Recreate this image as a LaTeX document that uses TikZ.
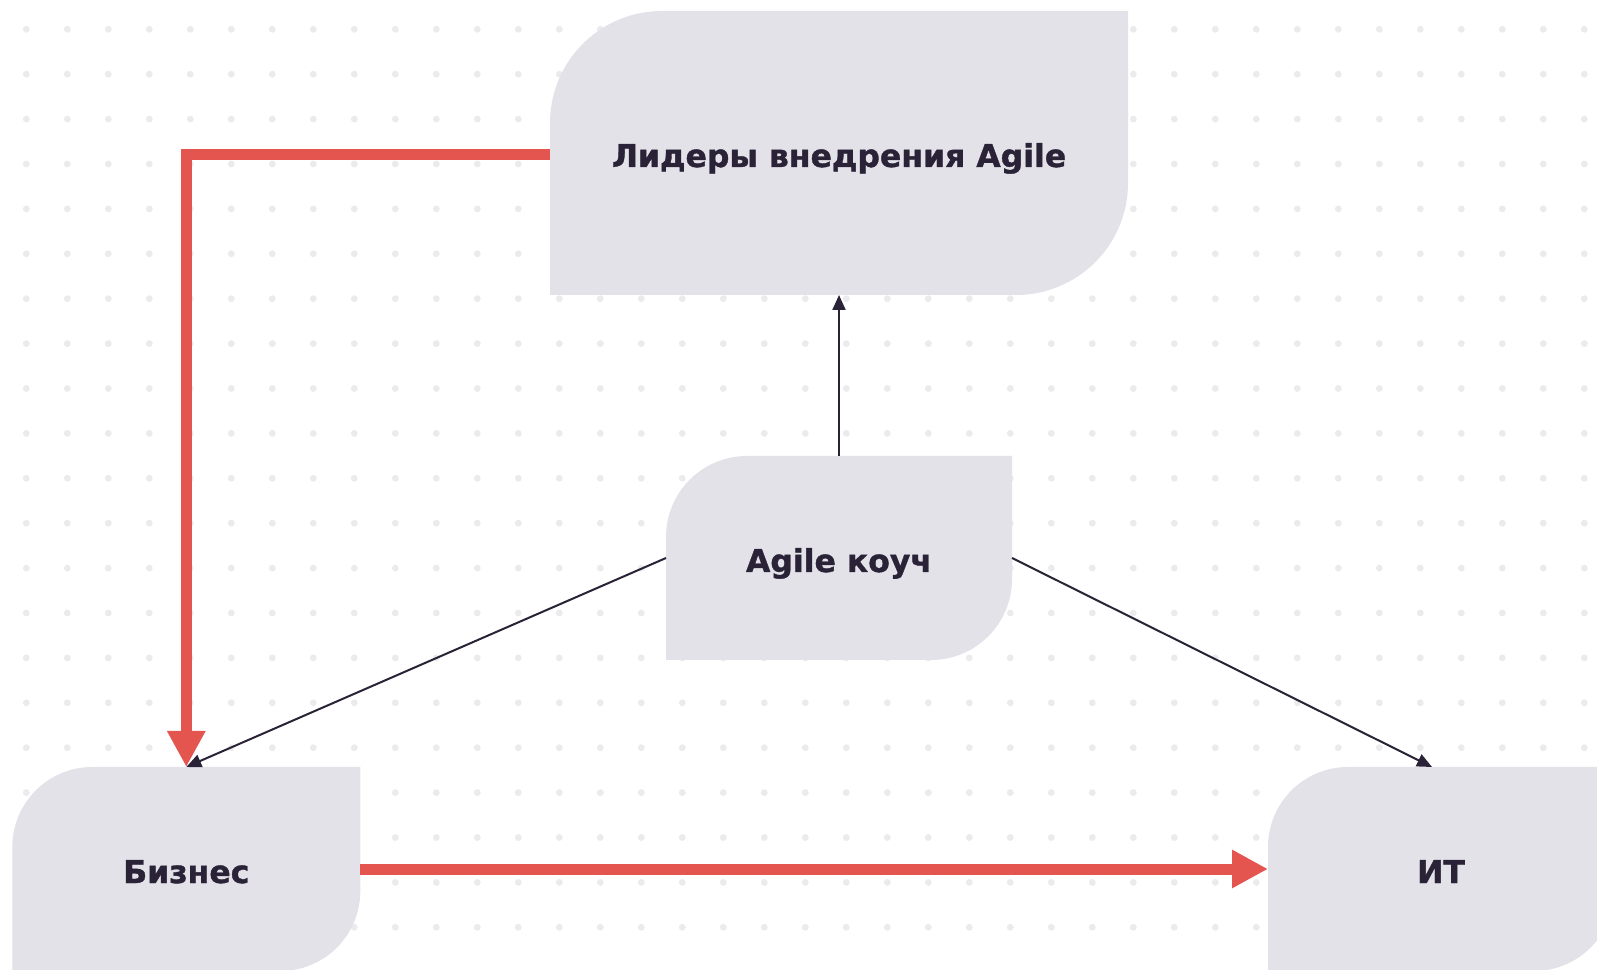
\documentclass[tikz,border=0pt]{standalone}
\usepackage{fontspec}
\setmainfont{DejaVu Sans}[BoldFeatures={FakeBold=1.2}]
\usetikzlibrary{arrows.meta}

\definecolor{leaffill}{HTML}{E3E2E9}
\definecolor{inkdark}{HTML}{2A2337}
\definecolor{flowred}{HTML}{E5554F}
\definecolor{dotgray}{HTML}{EBEBEE}

\begin{document}
\begin{tikzpicture}[x=1pt, y=1pt]
        \tikzstyle{redflow} = [draw, flowred, line width=11pt, -{Triangle[length=36pt, width=36pt]}]
        \tikzstyle{link} = [draw, inkdark, line width=2pt, -{Triangle[length=15pt, width=13pt]}]
        \tikzset{leaf/.style={outer sep=0pt, text=inkdark, font=\bfseries\fontsize{31.5}{36}\selectfont,
            text height=28pt, text depth=0pt,
            path picture={\fill[leaffill] (path picture bounding box.south west)
                -- ([yshift=-#1]path picture bounding box.north west)
                arc[start angle=180, end angle=90, radius=#1]
                -- (path picture bounding box.north east)
                -- ([yshift=#1]path picture bounding box.south east)
                arc[start angle=0, end angle=-90, radius=#1] -- cycle;}}}

        \useasboundingbox (0, 0) rectangle (1597, 969);
        \fill[white] (0, 0) rectangle (1597, 969);

        % dotted grid
        \foreach \i in {0,...,38}
            \foreach \j in {0,...,20}
                \fill[dotgray] (26.3+41*\i, 939.7-44.9*\j) circle (3.4);

        \node[leaf=112pt, minimum width=578pt, minimum height=284pt] (leaders) at (839, 816) {Лидеры внедрения Agile};
        \node[leaf=81pt, minimum width=346pt, minimum height=204pt] (agile coach) at (839, 411) {Agile коуч};
        \node[leaf=80pt, minimum width=348pt, minimum height=204pt] (business) at (186.3, 100) {Бизнес};
        \node[leaf=80pt, minimum width=346pt, minimum height=204pt] (it) at (1441, 100) {ИТ};

        \path[redflow] ([yshift=-2pt]leaders.west) -| (business.north);
        \path[redflow] (business.east) to (it.west);
        \path[link] (agile coach.north) to (leaders.south);
        \path[link] (agile coach.west) to (business.north);
        \path[link] (agile coach.east) to ([xshift=-9pt]it.north);
    \end{tikzpicture}
\end{document}
